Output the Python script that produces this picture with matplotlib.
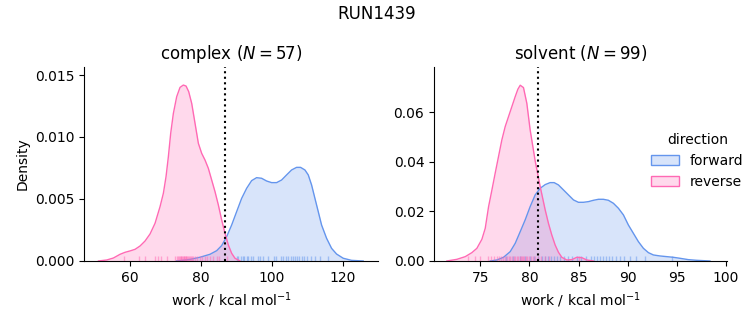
import matplotlib
matplotlib.use("Agg")
import matplotlib.pyplot as plt
from matplotlib.colors import to_rgb
from matplotlib.patches import Patch

FWD_COLOR = "#6495ed"
REV_COLOR = "#ff69b4"

# Kernel density curves (work in kcal/mol, density)
complex_fwd_x = [73.16, 76.93, 79.75, 82.57, 84.45, 85.86, 87.27, 88.68, 90.09, 91.50, 92.91,
                 94.32, 95.73, 97.14, 98.55, 99.96, 101.37, 102.78, 104.19, 105.60, 107.01,
                 108.14, 109.37, 110.31, 111.25, 112.19, 113.13, 114.07, 115.48, 116.89,
                 118.30, 120.18, 122.53, 125.82]
complex_fwd_y = [0.0, 0.00013, 0.0003, 0.00054, 0.00083, 0.00124, 0.00196, 0.0029, 0.00398,
                 0.00505, 0.00586, 0.00648, 0.00672, 0.00667, 0.00645, 0.00632, 0.00632,
                 0.00653, 0.00694, 0.00734, 0.00755, 0.00755, 0.00734, 0.00694, 0.00613,
                 0.00505, 0.00398, 0.0029, 0.00183, 0.00102, 0.00056, 0.00022, 0.00005, 0.0]
complex_rev_x = [51.07, 53.42, 55.30, 57.18, 58.59, 60.0, 61.41, 62.82, 64.23, 65.64, 67.05,
                 68.46, 69.40, 70.15, 70.81, 71.47, 72.22, 73.16, 74.10, 75.04, 75.80, 76.55,
                 77.40, 78.34, 79.28, 80.22, 81.16, 82.10, 83.04, 83.98, 84.92, 85.86, 86.80,
                 87.74, 88.68, 89.62, 91.03]
complex_rev_y = [0.0, 0.00008, 0.00024, 0.00054, 0.0007, 0.00081, 0.00094, 0.00121, 0.00161,
                 0.00218, 0.00304, 0.00438, 0.00546, 0.0068, 0.00841, 0.0103, 0.0119, 0.01325,
                 0.0140, 0.01419, 0.01411, 0.01366, 0.01271, 0.0111, 0.00949, 0.00868,
                 0.00814, 0.00747, 0.00653, 0.00559, 0.00452, 0.00331, 0.00223, 0.00129,
                 0.00062, 0.00022, 0.0]
solvent_fwd_x = [76.02, 76.69, 77.37, 78.05, 78.56, 79.07, 79.57, 80.08, 80.59, 81.10, 81.61,
                 82.11, 82.52, 82.96, 83.47, 83.98, 84.49, 84.99, 85.50, 86.01, 86.52, 87.03,
                 87.53, 88.04, 88.55, 89.06, 89.57, 90.07, 90.58, 91.09, 91.60, 92.11, 92.62,
                 93.29, 93.97, 94.65, 95.33, 96.17, 97.02, 98.37]
solvent_fwd_y = [0.0, 0.0004, 0.00148, 0.00376, 0.00712, 0.01183, 0.01653, 0.02191, 0.02661,
                 0.0293, 0.03078, 0.03158, 0.03158, 0.03064, 0.02863, 0.02661, 0.0246,
                 0.02365, 0.02365, 0.02392, 0.02446, 0.02486, 0.02486, 0.02446, 0.02325,
                 0.02124, 0.01855, 0.01452, 0.01116, 0.0078, 0.00511, 0.00336, 0.00242,
                 0.00202, 0.00175, 0.00148, 0.00108, 0.00054, 0.00027, 0.0]
solvent_rev_x = [71.61, 72.63, 73.48, 74.15, 74.66, 75.17, 75.51, 75.85, 76.19, 76.52, 76.86,
                 77.20, 77.54, 77.88, 78.22, 78.56, 78.83, 79.07, 79.40, 79.74, 80.08, 80.59,
                 81.10, 81.61, 81.94, 82.28, 82.62, 82.96, 83.30, 83.81, 84.32, 84.82, 85.33,
                 85.84, 86.52]
solvent_rev_y = [0.0, 0.00067, 0.00175, 0.00336, 0.0051, 0.00874, 0.01317, 0.0219, 0.02863,
                 0.03535, 0.04207, 0.04879, 0.05416, 0.0582, 0.06223, 0.06626, 0.06922,
                 0.07083, 0.06989, 0.06357, 0.05282, 0.04032, 0.02997, 0.02056, 0.01519,
                 0.01048, 0.00645, 0.00349, 0.00148, 0.0004, 0.00054, 0.00148, 0.00134,
                 0.0004, 0.0]

# Individual work values (rug)
complex_fwd_work = [90.1, 90.6, 91.2, 91.8, 92.3, 92.9, 93.4, 94.0, 94.8, 96.0, 96.8, 97.5,
                    99.0, 100.5, 101.2, 102.5, 103.2, 103.9, 104.6, 105.3, 106.0, 106.6, 107.2,
                    107.8, 108.4, 109.1, 110.0, 111.0, 112.2, 113.5, 116.0]
complex_rev_work = [58.4, 62.6, 64.2, 67.1, 67.8, 68.7, 70.5, 72.8, 73.2, 73.5, 73.8, 74.0,
                    74.3, 74.5, 74.7, 74.9, 75.1, 75.3, 75.5, 75.7, 75.9, 76.1, 76.3, 76.6,
                    76.9, 77.2, 77.5, 77.9, 78.3, 78.8, 79.7, 80.2, 81.1, 81.6, 82.6, 83.4,
                    84.5, 85.2, 87.3]
solvent_fwd_work = [77.6, 78.3, 79.0, 79.6, 80.1, 80.5, 80.9, 81.3, 81.6, 81.9, 82.2, 82.5,
                    82.8, 83.1, 83.5, 83.9, 84.3, 84.8, 85.3, 85.8, 86.3, 86.6, 86.9, 87.2,
                    87.5, 87.8, 88.1, 88.4, 88.8, 89.2, 89.6, 90.2, 90.8, 91.8, 94.5]
solvent_rev_work = [73.8, 74.5, 75.0, 75.8, 76.1, 76.4, 76.7, 76.9, 77.1, 77.3, 77.5, 77.7,
                    77.9, 78.0, 78.2, 78.4, 78.5, 78.7, 78.8, 79.0, 79.1, 79.2, 79.4, 79.5,
                    79.7, 79.8, 80.0, 80.2, 80.4, 80.6, 80.9, 81.2, 81.6, 82.0, 85.0]

# Free energy estimates (dotted lines)
complex_dg = 86.8
solvent_dg = 80.86

phases = [
    ("complex", 57, complex_fwd_x, complex_fwd_y, complex_rev_x, complex_rev_y,
     complex_fwd_work, complex_rev_work, complex_dg, (47, 130), (0, 0.01565)),
    ("solvent", 99, solvent_fwd_x, solvent_fwd_y, solvent_rev_x, solvent_rev_y,
     solvent_fwd_work, solvent_rev_work, solvent_dg, (70.3, 100.1), (0, 0.0782)),
]

fig = plt.figure(figsize=(7.53, 3.25), dpi=100)
ax_left = fig.add_axes([0.1116, 0.197, 0.3904, 0.597])
ax_right = fig.add_axes([0.5764, 0.197, 0.389, 0.597])

for ax, (name, n, fx, fy, rx, ry, fw, rw, dg, xlim, ylim) in zip([ax_left, ax_right], phases):
    for x, y, w, c in [(fx, fy, fw, FWD_COLOR), (rx, ry, rw, REV_COLOR)]:
        ax.fill_between(x, y, color=c, alpha=0.25, linewidth=0)
        ax.plot(x, y, color=c, lw=1)
        ax.vlines(w, 0, 0.025, transform=ax.get_xaxis_transform(), color=c, lw=1, alpha=0.5)
    ax.axvline(dg, color="k", ls=":", lw=1.5)
    ax.set_xlim(*xlim)
    ax.set_ylim(*ylim)
    ax.set_title(f"{name} ($N = {n}$)", fontsize=12)
    ax.set_xlabel("work / kcal mol$^{-1}$")
    ax.spines["top"].set_visible(False)
    ax.spines["right"].set_visible(False)

ax_left.set_ylabel("Density")
ax_left.set_xticks([60, 80, 100, 120])
ax_right.set_xticks([75, 80, 85, 90, 95, 100])
ax_right.set_yticks([0, 0.02, 0.04, 0.06])

handles = [Patch(facecolor=(*to_rgb(c), 0.25), edgecolor=c) for c in (FWD_COLOR, REV_COLOR)]
fig.legend(handles, ["forward", "reverse"], title="direction", loc="center left",
           bbox_to_anchor=(0.848, 0.505), frameon=False)

fig.suptitle("RUN1439", fontsize=12, y=0.985)

fig.savefig("out.png", dpi=100)
